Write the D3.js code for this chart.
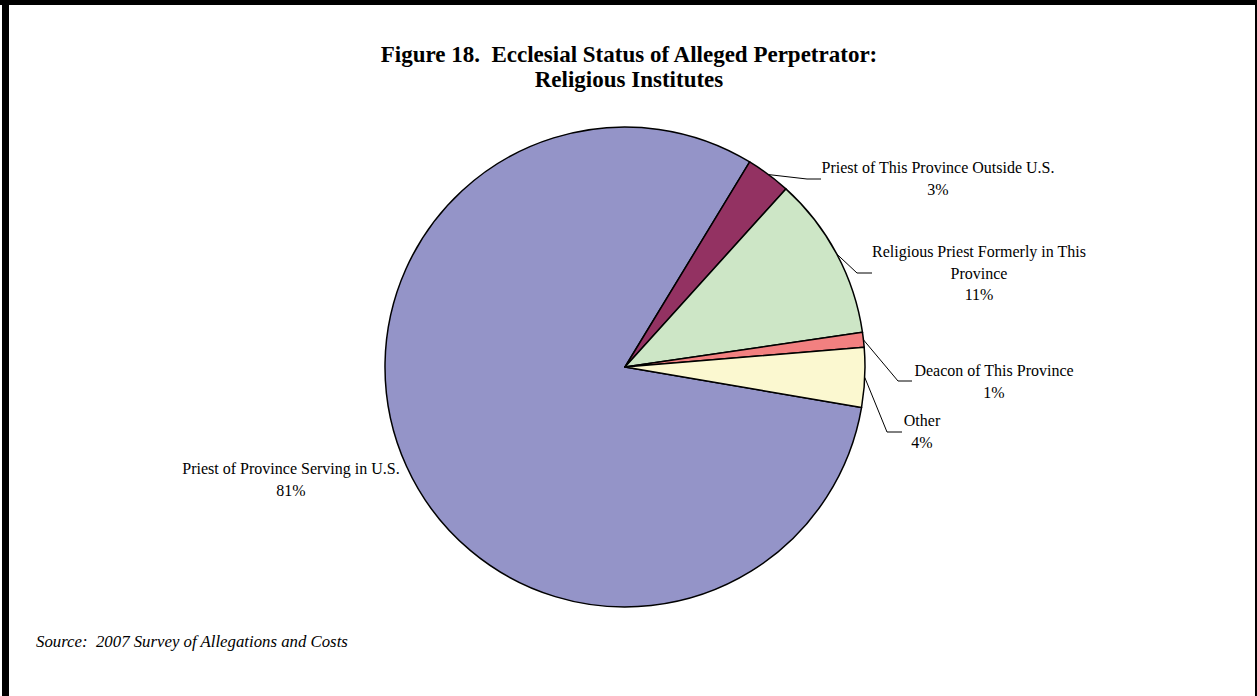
<!DOCTYPE html>
<html><head><meta charset="utf-8">
<script src="https://cdn.jsdelivr.net/npm/d3@7"></script>
<style>
html,body{margin:0;padding:0;background:#fff;}
svg{display:block;}
text{font-family:"Liberation Serif","Times New Roman",serif;fill:#000;white-space:pre;}
</style></head>
<body>
<svg id="chart" width="1257" height="696"></svg>
<script>
const categories = [
  "Priest of Province Serving in U.S.",
  "Priest of This Province Outside U.S.",
  "Religious Priest Formerly in This Province",
  "Deacon of This Province",
  "Other"
];
const values = [81, 3, 11, 1, 4];
const percentLabels = ["81%", "3%", "11%", "1%", "4%"];
const labelLines = [
  ["Priest of Province Serving in U.S."],
  ["Priest of This Province Outside U.S."],
  ["Religious Priest Formerly in This", "Province"],
  ["Deacon of This Province"],
  ["Other"]
];
const colors = ["#9494c8", "#933262", "#cde6c6", "#f28080", "#fbf8d0"];

// layout
const cx = 625, cy = 367, R = 240;
const startDeg = 99.7;
const lineH = 21.5;
const labelPos = [
  {x: 291, y: 474, leader: false},
  {x: 938, y: 173, elbow: [807, 179], end: [821, 179]},
  {x: 979, y: 257, elbow: [857, 273], end: [872, 273]},
  {x: 994, y: 376, elbow: [898, 381], end: [912, 381]},
  {x: 922, y: 426, elbow: [887, 432], end: [902, 432]}
];

const svg = d3.select("#chart");

// frame
svg.append("rect").attr("x", 0).attr("y", 0).attr("width", 1257).attr("height", 5).attr("fill", "#000");
svg.append("rect").attr("x", 2).attr("y", 0).attr("width", 7).attr("height", 696).attr("fill", "#000");
svg.append("rect").attr("x", 1255).attr("y", 0).attr("width", 2).attr("height", 696).attr("fill", "#000");

// title
svg.append("text").attr("x", 629).attr("y", 62).attr("text-anchor", "middle")
  .style("font-size", "23px").style("font-weight", "bold")
  .text("Figure 18.  Ecclesial Status of Alleged Perpetrator:");
svg.append("text").attr("x", 629).attr("y", 87).attr("text-anchor", "middle")
  .style("font-size", "23px").style("font-weight", "bold")
  .text("Religious Institutes");

const data = categories.map((c, i) => ({cat: c, value: values[i], i}));
const pie = d3.pie().sort(null).value(d => d.value)
  .startAngle(startDeg * Math.PI / 180)
  .endAngle(startDeg * Math.PI / 180 + 2 * Math.PI);
const arcs = pie(data);
const arc = d3.arc().innerRadius(0).outerRadius(R);

const g = svg.append("g").attr("transform", `translate(${cx},${cy})`);
g.selectAll("path").data(arcs).join("path")
  .attr("d", arc)
  .attr("fill", d => colors[d.data.i])
  .attr("stroke", "#000").attr("stroke-width", 1.5).attr("stroke-linejoin", "round");

// leader lines
arcs.forEach(a => {
  const p = labelPos[a.data.i];
  if (p.leader === false) return;
  const mid = (a.startAngle + a.endAngle) / 2;
  const sx = cx + R * Math.sin(mid), sy = cy - R * Math.cos(mid);
  svg.append("polyline")
    .attr("points", `${sx},${sy} ${p.elbow[0]},${p.elbow[1]} ${p.end[0]},${p.end[1]}`)
    .attr("fill", "none").attr("stroke", "#000").attr("stroke-width", 1);
});

// labels
labelLines.forEach((lines, i) => {
  const p = labelPos[i];
  const t = svg.append("text").attr("text-anchor", "middle").style("font-size", "16px");
  lines.concat([percentLabels[i]]).forEach((ln, k) => {
    t.append("tspan").attr("x", p.x).attr("y", p.y + k * lineH).text(ln);
  });
});

// source
svg.append("text").attr("x", 36).attr("y", 647)
  .style("font-size", "16.8px").style("font-style", "italic")
  .text("Source:  2007 Survey of Allegations and Costs");
</script>
</body></html>
